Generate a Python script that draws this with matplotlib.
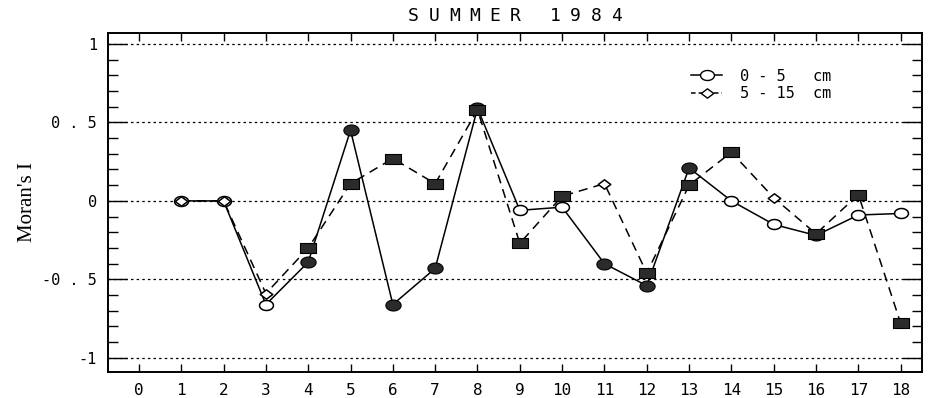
import numpy as np
import matplotlib.pyplot as plt
from matplotlib.path import Path
from matplotlib.ticker import MultipleLocator, FixedLocator

# Moran's I per distance class, two soil depths
lags = np.arange(1, 19)
shallow_I = [0.0, 0.0, -0.66, -0.39, 0.45, -0.66, -0.43, 0.59, -0.06,
             -0.04, -0.40, -0.54, 0.21, 0.0, -0.15, -0.22, -0.09, -0.08]
deep_I = [0.0, 0.0, -0.59, -0.30, 0.11, 0.27, 0.11, 0.58, -0.27,
          0.03, 0.11, -0.46, 0.10, 0.31, 0.02, -0.21, 0.04, -0.78]
# significant values get filled markers
shallow_sig = [0, 0, 0, 1, 1, 1, 1, 1, 0, 0, 1, 1, 1, 0, 0, 1, 0, 0]
deep_sig = [0, 0, 0, 1, 1, 1, 1, 1, 1, 1, 0, 1, 1, 1, 0, 1, 1, 1]

x_ticks = list(range(0, 19))
y_ticks = [1, 0.5, 0, -0.5, -1]
y_tick_labels = ["1", "0 . 5", "0", "-0 . 5", "-1"]
legend_labels = ["0 - 5   cm", "5 - 15  cm"]

fill = "#2b2b2b"
mono = "DejaVu Sans Mono"

# flattened marker shapes (wider than tall)
t = np.linspace(0, 2 * np.pi, 40)
ellipse = Path(np.column_stack([np.cos(t), 0.72 * np.sin(t)]), closed=True)
rect = Path([(-1, -0.68), (1, -0.68), (1, 0.68), (-1, 0.68), (-1, -0.68)], closed=True)
kite = Path([(-1, 0), (0, 0.75), (1, 0), (0, -0.75), (-1, 0)], closed=True)

fig = plt.figure(figsize=(9.29, 3.98), dpi=100)
ax = fig.add_axes([0.1163, 0.0653, 0.876, 0.852])

for y in y_ticks:
    ax.axhline(y, color="black", lw=0.9, ls=(0, (2, 2.5)), zorder=1)

ax.plot(lags, shallow_I, color="black", lw=1.1, zorder=2)
ax.plot(lags, deep_I, color="black", lw=1.1, ls=(0, (6, 4)), zorder=2)

for x, y, s in zip(lags, shallow_I, shallow_sig):
    if s:
        ax.plot(x, y, marker=ellipse, ms=11, mfc=fill, mec="black", mew=0.8, zorder=4)
    else:
        ax.plot(x, y, marker=ellipse, ms=10, mfc="white", mec="black", mew=1.1, zorder=3)
for x, y, s in zip(lags, deep_I, deep_sig):
    if s:
        ax.plot(x, y, marker=rect, ms=11, mfc=fill, mec="black", mew=0.8, zorder=4)
    else:
        ax.plot(x, y, marker=kite, ms=9, mfc="white", mec="black", mew=1.1, zorder=3)

ax.set_xlim(-0.73, 18.5)
ax.set_ylim(-1.09, 1.07)

ax.xaxis.set_major_locator(FixedLocator(x_ticks))
ax.set_xticklabels([str(v) for v in x_ticks], family=mono, fontsize=11.5)
ax.yaxis.set_major_locator(FixedLocator(y_ticks))
ax.set_yticklabels(y_tick_labels, family=mono, fontsize=11)
ax.yaxis.set_minor_locator(MultipleLocator(0.1))

ax.tick_params(axis="x", which="major", direction="in", top=True, bottom=True,
               length=6, width=1, pad=8)
ax.tick_params(axis="y", which="major", direction="in", left=True, right=True,
               length=14, width=1, pad=8)
ax.tick_params(axis="y", which="minor", direction="in", left=True, right=True,
               length=7, width=1)
for sp in ax.spines.values():
    sp.set_linewidth(1.4)

ax.set_ylabel("Moran's I", family="Liberation Serif", fontsize=15, labelpad=4)

# spaced-out title over the axes centre, one glyph at a time
title = "SUMMER 1984"
step = 0.0218
x0 = 0.1163 + 0.876 / 2 - step * (len(title) - 1) / 2
for i, ch in enumerate(title):
    fig.text(x0 + i * step, 0.960, ch, family=mono, fontsize=13,
             ha="center", va="center")

h1, = ax.plot([], [], color="black", lw=1.1, marker=ellipse, ms=10,
              mfc="white", mec="black")
h2, = ax.plot([], [], color="black", lw=1.1, ls=(0, (3, 2)), marker=kite, ms=9,
              mfc="white", mec="black")
ax.legend([h1, h2], legend_labels, loc="upper left",
          bbox_to_anchor=(0.70, 0.935), frameon=False, handlelength=2.0,
          handletextpad=1.2, labelspacing=0.15, prop={"family": mono, "size": 11})

fig.savefig("out.png", dpi=100)
